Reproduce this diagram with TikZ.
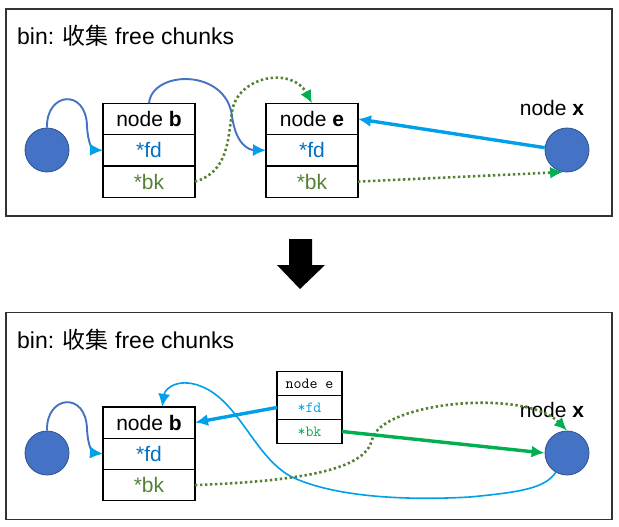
\documentclass[tikz,border=0pt]{standalone}
\usepackage{fontspec}
\setmainfont{Liberation Sans}
\newfontfamily\cjk{Noto Sans CJK SC}
\usepackage{tikz}
\usetikzlibrary{positioning,arrows.meta}
\usepackage{xcolor}
\definecolor{dotblue}{HTML}{4472C4}
\definecolor{dotedge}{HTML}{2F528F}
\definecolor{linkblue}{HTML}{00A0E9}
\definecolor{fdblue}{HTML}{0070C0}
\definecolor{bkgreen}{HTML}{548235}
\definecolor{linkgreen}{HTML}{00B050}

\tikzset{
  panel/.style={draw=black!80, line width=1.3pt, minimum width=606pt, minimum height=207pt, inner sep=0pt},
  title/.style={anchor=base west, inner sep=0pt, font=\fontsize{23}{27}\selectfont},
  cell/.style={draw, line width=1.3pt, outer sep=0pt, inner sep=0pt, minimum width=92pt, minimum height=31.3pt, font=\fontsize{21}{25}\selectfont},
  ttcell/.style={draw, line width=1.3pt, outer sep=0pt, inner sep=0pt, minimum width=65pt, minimum height=24pt, font=\ttfamily\fontsize{15.5}{18}\selectfont},
  bindot/.style={circle, fill=dotblue, draw=dotedge, line width=0.8pt, minimum size=44pt, inner sep=0pt},
  curvelink/.style={draw=dotblue, line width=1.9pt, -{Latex[length=13pt,width=12pt,color=linkblue]}},
  thinlink/.style={draw=linkblue, line width=1.6pt, -{Latex[length=13pt,width=12pt]}},
  fdlink/.style={draw=linkblue, line width=3.4pt, -{Latex[length=13pt,width=12pt]}},
  bklink/.style={draw=linkgreen, line width=3.4pt, -{Latex[length=13pt,width=12pt]}},
  dotlink/.style={draw=bkgreen, line width=2.6pt, dash pattern=on 2.4pt off 2.6pt, -{Latex[length=13pt,width=12pt,color=linkgreen]}},
}

\begin{document}
\begin{tikzpicture}[x=1pt,y=-1pt]
\useasboundingbox (0,0) rectangle (619,527);

% before
\node[panel] (before) at (309,112.5) {};
\node[title] (btitle) at (17,45) {bin: {\cjk 收集} free chunks};
\node[bindot] (head1) at (47,150) {};
\node[cell] (bhead) at (149,119) {node \textbf{b}};
\node[cell, below=0pt of bhead, text=fdblue] (bfd) {*fd};
\node[cell, below=0pt of bfd, text=bkgreen] (bbk) {*bk};
\node[cell] (ehead) at (312,119) {node \textbf{e}};
\node[cell, below=0pt of ehead, text=fdblue] (efd) {*fd};
\node[cell, below=0pt of efd, text=bkgreen] (ebk) {*bk};
\node[bindot] (xdot1) at (567,150) {};
\node[font=\fontsize{21}{25}\selectfont, inner sep=0pt] (xlab1) at (552,108) {node \textbf{x}};

\draw[curvelink] (head1.north) .. controls (46,92) and (86,88) .. (87,126) .. controls (88,146) and (94,150) .. (bfd.west);
\draw[curvelink] (bhead.north) .. controls (152,70) and (226,68) .. (232,116) .. controls (236,146) and (250,150) .. (efd.west);
\draw[dotlink] (bbk.east) .. controls (228,172) and (228,140) .. (232,112) .. controls (237,76) and (292,66) .. (ehead.north);
\draw[dotlink] (ebk.east) -- (xdot1.-100);
\draw[fdlink] (xdot1.174) -- (ehead.east);

% arrow between
\fill (289,239) -- (312,239) -- (312,265) -- (325,265) -- (300,289) -- (277,265) -- (289,265) -- cycle;

% after
\node[panel] (after) at (309,416) {};
\node[title] (atitle) at (17,348) {bin: {\cjk 收集} free chunks};
\node[bindot] (head2) at (47,453) {};
\node[cell] (b2head) at (149,422.5) {node \textbf{b}};
\node[cell, below=0pt of b2head, text=fdblue] (b2fd) {*fd};
\node[cell, below=0pt of b2fd, text=bkgreen] (b2bk) {*bk};
\node[ttcell] (e2head) at (309.5,383.5) {node e};
\node[ttcell, below=0pt of e2head, text=linkblue] (e2fd) {*fd};
\node[ttcell, below=0pt of e2fd, text=linkgreen] (e2bk) {*bk};
\node[bindot] (xdot2) at (567,453) {};
\node[font=\fontsize{21}{25}\selectfont, inner sep=0pt] (xlab2) at (552,410) {node \textbf{x}};

\draw[curvelink] (head2.north) .. controls (46,395) and (86,391) .. (87,429) .. controls (88,449) and (94,453) .. (b2fd.west);
\draw[fdlink] (e2fd.west) -- (b2head.east);
\draw[thinlink] (xdot2.-120) .. controls (545,488) and (522,492) .. (470,497) .. controls (400,501) and (330,496) .. (290,476) .. controls (255,456) and (240,405) .. (205,388) .. controls (180,376) and (165,388) .. (b2head.50);
\draw[dotlink] (b2bk.east) .. controls (300,481) and (365,470) .. (372,440) .. controls (380,402) and (525,388) .. (xdot2.north);
\draw[bklink] (e2bk.east) -- (xdot2.west);
\end{tikzpicture}
\end{document}
